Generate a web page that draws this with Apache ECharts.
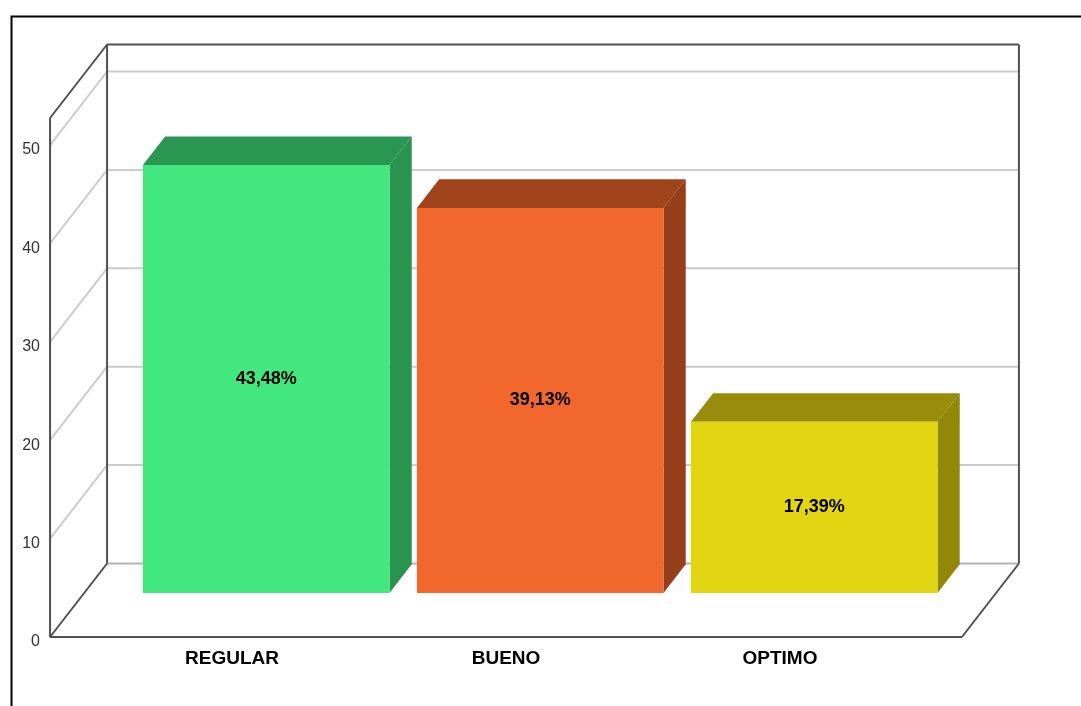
<!DOCTYPE html>
<html>
<head>
<meta charset="utf-8">
<title>REGULAR / BUENO / OPTIMO</title>
<script src="https://cdn.jsdelivr.net/npm/echarts@6/dist/echarts.min.js"></script>
<style>
  html, body { margin: 0; padding: 0; background: #ffffff; }
  #chart { width: 1081px; height: 706px; }
</style>
</head>
<body>
<div id="chart"></div>
<script>
// Categories and their percentages
const categories = ['REGULAR', 'BUENO', 'OPTIMO'];
const percentages = [43.48, 39.13, 17.39];

// Value-axis ticks (also used for the wall gridlines)
const yTicks = [0, 10, 20, 30, 40, 50];
const yMax = 52.75;

// Face colours per bar: front, top, right side
const frontColors = ['#42e87e', '#f2672b', '#e2d511'];
const topColors = ['#2a9652', '#a0441d', '#978c0b'];
const sideColors = ['#2a9350', '#973f1b', '#918809'];

// Oblique depth of the box (pixels for the full depth)
const DEPTH_X = 57;
const DEPTH_Y = -73.5;
// Bars stand from 60% to 99% of the depth
const BAR_FRONT = 0.6;
const BAR_DEPTH = 0.39;
// Extra floor beyond the outer bands, as a fraction of one band
const SIDE_PAD = 0.164;

const EDGE = '#505050';
const GRID = '#cccccc';

const chart = echarts.init(document.getElementById('chart'), null, { renderer: 'canvas' });

function fmt(v) {
  return v.toFixed(2).replace('.', ',') + '%';
}

function frameBounds(params, api) {
  const cs = params.coordSys;
  const band = api.size([1, 0])[0];
  return {
    left: cs.x - band * SIDE_PAD,
    right: cs.x + cs.width + band * SIDE_PAD,
    top: cs.y,
    bottom: cs.y + cs.height
  };
}

// Walls and floor outline
function renderFrame(params, api) {
  const f = frameBounds(params, api);
  const bx = DEPTH_X, by = DEPTH_Y;
  const lineStyle = { stroke: EDGE, lineWidth: 2, fill: null };
  const seg = (x1, y1, x2, y2, style) => ({
    type: 'line', shape: { x1, y1, x2, y2 }, style
  });
  return {
    type: 'group',
    children: [
      // back floor line
      seg(f.left + bx, f.bottom + by, f.right + bx, f.bottom + by, { stroke: '#b4b4b4', lineWidth: 2 }),
      // left wall
      seg(f.left, f.top, f.left, f.bottom, lineStyle),
      seg(f.left, f.top, f.left + bx, f.top + by, lineStyle),
      seg(f.left + bx, f.top + by, f.left + bx, f.bottom + by, lineStyle),
      // back wall
      seg(f.left + bx, f.top + by, f.right + bx, f.top + by, lineStyle),
      seg(f.right + bx, f.top + by, f.right + bx, f.bottom + by, lineStyle),
      // floor
      seg(f.left, f.bottom, f.left + bx, f.bottom + by, lineStyle),
      seg(f.left, f.bottom, f.right, f.bottom, lineStyle),
      seg(f.right, f.bottom, f.right + bx, f.bottom + by, lineStyle)
    ]
  };
}

// Gridlines across left wall and back wall
function renderGrid(params, api) {
  const v = api.value(0);
  if (v === 0) return null;
  const f = frameBounds(params, api);
  const y = api.coord([0, v])[1];
  const style = { stroke: GRID, lineWidth: 2, fill: null };
  return {
    type: 'group',
    children: [
      { type: 'line', shape: { x1: f.left, y1: y, x2: f.left + DEPTH_X, y2: y + DEPTH_Y }, style },
      { type: 'line', shape: { x1: f.left + DEPTH_X, y1: y + DEPTH_Y, x2: f.right + DEPTH_X, y2: y + DEPTH_Y }, style }
    ]
  };
}

// 3D bar: top, side, front faces and the value label
function renderBar(params, api) {
  const i = api.value(0);
  const v = api.value(1);
  const base = api.coord([i, 0]);
  const tip = api.coord([i, v]);
  const bw = api.size([1, 0])[0] * 0.9;
  const fx = DEPTH_X * BAR_FRONT, fy = DEPTH_Y * BAR_FRONT;
  const dx = DEPTH_X * BAR_DEPTH, dy = DEPTH_Y * BAR_DEPTH;
  const L = base[0] - bw / 2 + fx;
  const R = base[0] + bw / 2 + fx;
  const T = tip[1] + fy;
  const B = base[1] + fy;
  return {
    type: 'group',
    children: [
      {
        type: 'polygon',
        shape: { points: [[L, T], [R, T], [R + dx, T + dy], [L + dx, T + dy]] },
        style: { fill: topColors[i] }
      },
      {
        type: 'polygon',
        shape: { points: [[R, T], [R + dx, T + dy], [R + dx, B + dy], [R, B]] },
        style: { fill: sideColors[i] }
      },
      {
        type: 'rect',
        shape: { x: L, y: T, width: R - L, height: B - T },
        style: { fill: frontColors[i] }
      },
      {
        type: 'text',
        style: {
          text: fmt(v),
          x: (L + R) / 2,
          y: (T + B) / 2,
          align: 'center',
          verticalAlign: 'middle',
          fill: '#000000',
          font: 'bold 18px "Liberation Sans", Arial, sans-serif'
        }
      }
    ]
  };
}

const option = {
  backgroundColor: '#ffffff',
  animation: false,
  grid: { left: 95, right: 164, top: 118, bottom: 69 },
  xAxis: {
    type: 'category',
    data: categories,
    axisLine: { show: false },
    axisTick: { show: false },
    splitLine: { show: false },
    axisLabel: {
      margin: 12,
      color: '#000000',
      fontSize: 19,
      fontWeight: 'bold',
      fontFamily: '"Liberation Sans", Arial, sans-serif'
    }
  },
  yAxis: {
    type: 'value',
    min: 0,
    max: yMax,
    interval: 10,
    offset: 45,
    axisLine: { show: false },
    axisTick: { show: false },
    splitLine: { show: false },
    axisLabel: {
      showMaxLabel: false,
      margin: 10,
      verticalAlign: 'top',
      lineHeight: 10,
      color: '#333333',
      fontSize: 16,
      fontFamily: '"Liberation Sans", Arial, sans-serif'
    }
  },
  graphic: [
    {
      type: 'rect',
      left: 9, top: 14,
      shape: { width: 1200, height: 800 },
      style: { fill: null, stroke: '#000000', lineWidth: 2 },
      z: 100
    }
  ],
  series: [
    {
      type: 'custom',
      renderItem: renderGrid,
      data: yTicks.map(t => [t]),
      encode: { y: 0 },
      silent: true,
      z: 1
    },
    {
      type: 'custom',
      renderItem: renderFrame,
      data: [[0, 0]],
      silent: true,
      z: 2
    },
    {
      type: 'custom',
      renderItem: renderBar,
      data: percentages.map((v, i) => [i, v]),
      encode: { x: 0, y: 1 },
      z: 3
    }
  ]
};

chart.setOption(option);
</script>
</body>
</html>
